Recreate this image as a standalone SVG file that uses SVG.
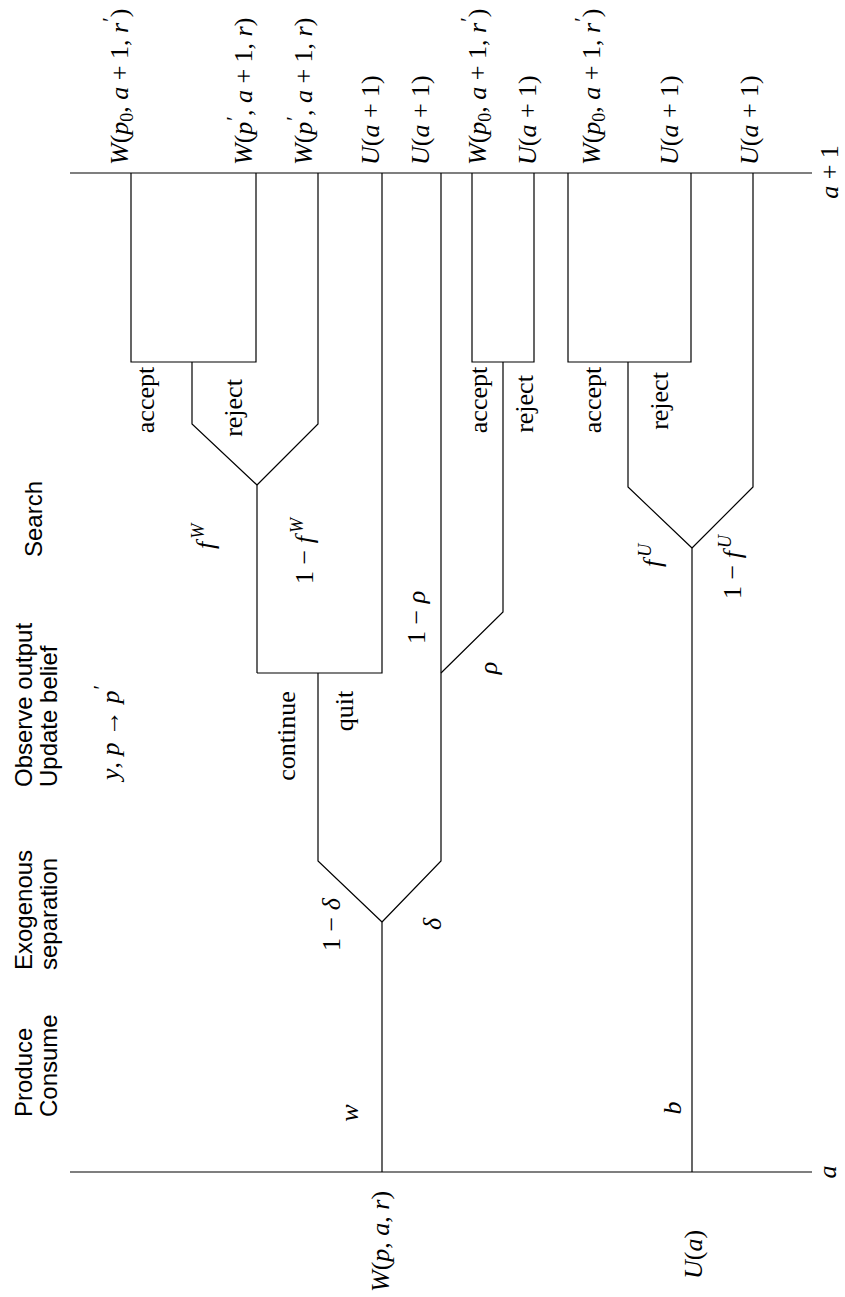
<svg xmlns="http://www.w3.org/2000/svg" width="845" height="1297" viewBox="0 0 845 1297">
<style>
.ln{stroke:#000;stroke-width:1.2;fill:none;stroke-linejoin:miter}
.m{font-family:"Liberation Serif",serif;font-size:26px;fill:#000}
.i{font-style:italic}
.sub{font-size:18px}
.pr{font-size:21px}
.s{font-family:"Liberation Sans",Arial,sans-serif;font-size:24px;fill:#000}
</style>
<rect width="845" height="1297" fill="#fff"/>
<g id="connectors" class="ln">
<path d="M70 173H812"/>
<path d="M70 1172H812"/>
<path d="M382 1172V922"/>
<path d="M382 922L318 861V673"/>
<path d="M382 922L441 861V173"/>
<path d="M257 673H382V173"/>
<path d="M257 673V485"/>
<path d="M257 485L192 424V362"/>
<path d="M257 485L318 424V173"/>
<path d="M131 173V362H256V173"/>
<path d="M441 673L503 612V362"/>
<path d="M472 173V362H534V173"/>
<path d="M692 1172V548"/>
<path d="M692 548L628 487V362"/>
<path d="M692 548L753 487V173"/>
<path d="M568 173V362H691V173"/>
</g>
<g id="stages" class="s">
<text transform="translate(42,557) rotate(-90)">Search</text>
<text transform="translate(32,787) rotate(-90)">Observe output<tspan x="0" dy="25">Update belief</tspan></text>
<text transform="translate(32,970) rotate(-90)">Exogenous<tspan x="0" dy="25">separation</tspan></text>
<text transform="translate(32,1117) rotate(-90)">Produce<tspan x="0" dy="25">Consume</tspan></text>
</g>
<g id="top-states" class="m">
<text transform="translate(128,165) rotate(-90)"><tspan class="i">W</tspan>(<tspan class="i">p</tspan><tspan class="sub" dy="5">0</tspan><tspan dy="-5">, </tspan><tspan class="i">a</tspan> + 1, <tspan class="i">r</tspan><tspan class="pr" dy="-11" dx="1">′</tspan><tspan dy="11">)</tspan></text>
<text transform="translate(252,165) rotate(-90)"><tspan class="i">W</tspan>(<tspan class="i">p</tspan><tspan class="pr" dy="-11" dx="1">′</tspan><tspan dy="11">, </tspan><tspan class="i">a</tspan> + 1, <tspan class="i">r</tspan>)</text>
<text transform="translate(312,165) rotate(-90)"><tspan class="i">W</tspan>(<tspan class="i">p</tspan><tspan class="pr" dy="-11" dx="1">′</tspan><tspan dy="11">, </tspan><tspan class="i">a</tspan> + 1, <tspan class="i">r</tspan>)</text>
<text transform="translate(379,165) rotate(-90)"><tspan class="i">U</tspan>(<tspan class="i">a</tspan> + 1)</text>
<text transform="translate(429,165) rotate(-90)"><tspan class="i">U</tspan>(<tspan class="i">a</tspan> + 1)</text>
<text transform="translate(486,165) rotate(-90)"><tspan class="i">W</tspan>(<tspan class="i">p</tspan><tspan class="sub" dy="5">0</tspan><tspan dy="-5">, </tspan><tspan class="i">a</tspan> + 1, <tspan class="i">r</tspan><tspan class="pr" dy="-11" dx="1">′</tspan><tspan dy="11">)</tspan></text>
<text transform="translate(536,165) rotate(-90)"><tspan class="i">U</tspan>(<tspan class="i">a</tspan> + 1)</text>
<text transform="translate(600,165) rotate(-90)"><tspan class="i">W</tspan>(<tspan class="i">p</tspan><tspan class="sub" dy="5">0</tspan><tspan dy="-5">, </tspan><tspan class="i">a</tspan> + 1, <tspan class="i">r</tspan><tspan class="pr" dy="-11" dx="1">′</tspan><tspan dy="11">)</tspan></text>
<text transform="translate(678,165) rotate(-90)"><tspan class="i">U</tspan>(<tspan class="i">a</tspan> + 1)</text>
<text transform="translate(758,165) rotate(-90)"><tspan class="i">U</tspan>(<tspan class="i">a</tspan> + 1)</text>
</g>
<g id="axis-labels" class="m">
<text class="i" text-anchor="middle" transform="translate(838,172) rotate(-90)">a<tspan font-style="normal"> + 1</tspan></text>
<text class="i" text-anchor="middle" transform="translate(836,1172) rotate(-90)">a</text>
</g>
<g id="initial-states" class="m">
<text transform="translate(389,1292) rotate(-90)"><tspan class="i">W</tspan>(<tspan class="i">p</tspan>, <tspan class="i">a</tspan>, <tspan class="i">r</tspan>)</text>
<text transform="translate(702,1279) rotate(-90)"><tspan class="i">U</tspan>(<tspan class="i">a</tspan>)</text>
</g>
<g id="branch-labels" class="m">
<text text-anchor="middle" transform="translate(154,400) rotate(-90)">accept</text>
<text text-anchor="middle" transform="translate(242,408) rotate(-90)">reject</text>
<text text-anchor="middle" transform="translate(487,400) rotate(-90)">accept</text>
<text text-anchor="middle" transform="translate(533,404) rotate(-90)">reject</text>
<text text-anchor="middle" transform="translate(601,400) rotate(-90)">accept</text>
<text text-anchor="middle" transform="translate(668,401) rotate(-90)">reject</text>
<text transform="translate(214,549) rotate(-90)"><tspan class="i">f</tspan><tspan class="i sub" dy="-10" dx="3">W</tspan></text>
<text transform="translate(313,584) rotate(-90)">1 − <tspan class="i">f</tspan><tspan class="i sub" dy="-10" dx="3">W</tspan></text>
<text transform="translate(425,644) rotate(-90)">1 − <tspan class="i">ρ</tspan></text>
<text class="i" text-anchor="middle" transform="translate(497,668) rotate(-90)">ρ</text>
<text text-anchor="middle" transform="translate(295,736) rotate(-90)">continue</text>
<text text-anchor="middle" transform="translate(353,711) rotate(-90)">quit</text>
<text transform="translate(119,780) rotate(-90)"><tspan class="i">y</tspan>, <tspan class="i">p</tspan> → <tspan class="i">p</tspan><tspan class="pr" dy="-11" dx="1">′</tspan></text>
<text transform="translate(340,951) rotate(-90)">1 − <tspan class="i">δ</tspan></text>
<text class="i" text-anchor="middle" transform="translate(441,924) rotate(-90)">δ</text>
<text transform="translate(661,567) rotate(-90)"><tspan class="i">f</tspan><tspan class="i sub" dy="-10" dx="3">U</tspan></text>
<text transform="translate(741,599) rotate(-90)">1 − <tspan class="i">f</tspan><tspan class="i sub" dy="-10" dx="3">U</tspan></text>
<text class="i" text-anchor="middle" transform="translate(358,1113) rotate(-90)">w</text>
<text class="i" text-anchor="middle" transform="translate(681,1108) rotate(-90)">b</text>
</g>
</svg>
